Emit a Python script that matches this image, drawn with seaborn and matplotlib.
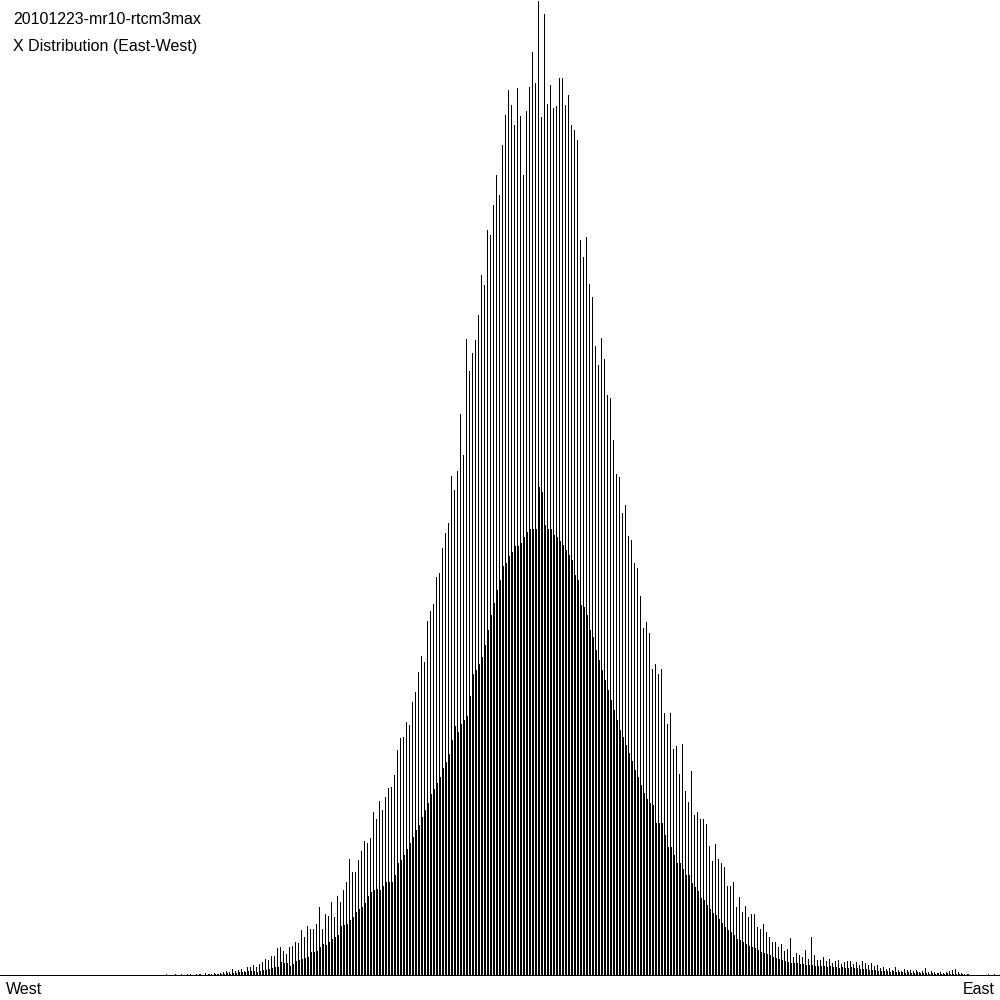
import numpy as np
import pandas as pd
import seaborn as sns
import matplotlib
matplotlib.use("Agg")
import matplotlib.pyplot as plt

# --- datos: histograma X (Este-Oeste), pares de bins (alto / bajo) ---
titulo_1 = "20101223-mr10-rtcm3max"
titulo_2 = "X Distribution (East-West)"
etiqueta_oeste = "West"
etiqueta_este = "East"

# bins "altos" (cada par), de oeste a este
conteo_alto = [
    0, 0, 1, 0, 0, 1, 0, 1, 0, 1,
    1, 0, 1, 1, 0, 2, 1, 1, 2, 1,
    2, 3, 4, 3, 6, 4, 5, 6, 4, 8,
    8, 10, 8, 11, 13, 16, 15, 19, 19, 27,
    28, 24, 21, 28, 29, 33, 32, 45, 38, 49,
    46, 46, 51, 68, 46, 61, 59, 73, 58, 79,
    73, 85, 93, 116, 103, 103, 115, 124, 134, 132,
    137, 163, 156, 174, 165, 178, 187, 188, 200, 225,
    237, 238, 253, 250, 273, 283, 303, 319, 313, 354,
    364, 371, 398, 402, 427, 442, 452, 499, 485, 504,
    561, 520, 636, 604, 622, 635, 660, 700, 690, 745,
    740, 770, 800, 780, 830, 860, 885, 870, 850, 887,
    859, 800, 864, 888, 923, 892, 974, 858, 961, 871,
    890, 867, 869, 897, 897, 870, 880, 850, 845, 835,
    735, 718, 738, 691, 678, 629, 610, 637, 616, 580,
    577, 535, 501, 498, 462, 470, 439, 435, 412, 407,
    379, 347, 353, 342, 306, 311, 301, 306, 262, 251,
    262, 226, 229, 201, 231, 184, 173, 204, 160, 163,
    156, 156, 151, 129, 114, 131, 116, 112, 108, 89,
    89, 93, 68, 78, 63, 69, 58, 61, 61, 48,
    46, 51, 43, 38, 33, 33, 28, 31, 24, 26,
    37, 18, 22, 20, 18, 25, 16, 38, 20, 15,
    15, 18, 14, 16, 12, 14, 15, 11, 13, 14,
    14, 11, 13, 10, 14, 12, 10, 12, 9, 10,
    7, 8, 6, 7, 5, 8, 5, 4, 6, 5,
    5, 4, 5, 3, 4, 7, 3, 4, 3, 2,
    3, 2, 3, 4, 5, 6, 3, 2, 1, 1,
    0, 0, 0, 0, 0, 0, 1, 0, 1, 0,
]

# bins "bajos" (el vecino de cada par)
conteo_bajo = [
    0, 0, 0, 0, 0, 0, 0, 0, 0, 0,
    0, 0, 0, 1, 0, 0, 1, 0, 1, 1,
    1, 1, 2, 1, 2, 2, 3, 3, 3, 4,
    4, 4, 3, 4, 5, 5, 6, 7, 8, 8,
    13, 12, 12, 9, 11, 14, 15, 16, 17, 18,
    23, 23, 24, 28, 31, 30, 33, 36, 38, 40,
    49, 50, 51, 55, 58, 63, 66, 68, 72, 79,
    83, 85, 86, 85, 89, 93, 93, 93, 100, 112,
    115, 120, 126, 132, 138, 145, 150, 158, 165, 172,
    181, 186, 192, 198, 207, 213, 221, 235, 249, 243,
    251, 255, 259, 279, 301, 305, 311, 318, 330, 345,
    360, 372, 385, 395, 409, 412, 419, 423, 429, 429,
    432, 438, 443, 446, 446, 446, 488, 483, 450, 446,
    446, 440, 438, 434, 430, 425, 420, 415, 400, 395,
    370, 368, 360, 345, 338, 325, 315, 305, 295, 285,
    275, 265, 255, 245, 238, 230, 222, 214, 205, 198,
    190, 182, 176, 172, 170, 152, 152, 152, 140, 128,
    128, 120, 112, 112, 106, 100, 100, 92, 88, 84,
    77, 75, 70, 66, 62, 60, 56, 52, 48, 45,
    43, 40, 36, 35, 33, 31, 29, 28, 27, 25,
    23, 22, 21, 20, 18, 17, 16, 15, 14, 13,
    12, 12, 12, 11, 11, 10, 10, 10, 9, 9,
    9, 9, 8, 9, 8, 8, 7, 8, 7, 7,
    8, 7, 7, 6, 6, 6, 5, 5, 5, 4,
    4, 4, 4, 3, 4, 3, 3, 3, 2, 3,
    2, 2, 3, 2, 2, 2, 1, 2, 1, 2,
    1, 1, 2, 1, 1, 1, 1, 1, 0, 1,
    0, 0, 0, 0, 0, 0, 0, 0, 0, 0,
]

# --- armado del DataFrame largo ---
n = len(conteo_alto)
par = np.arange(n)
df = pd.DataFrame({
    "pos": np.concatenate([par + 1 / 6, par + 1 / 2]),
    "conteo": conteo_alto + conteo_bajo,
})

sns.set_theme(style="white")
plt.rcParams["font.family"] = ["Liberation Sans", "DejaVu Sans"]
plt.rcParams["text.color"] = "black"

fig = plt.figure(figsize=(10, 10), dpi=100)
ax = fig.add_axes([0, 0.025, 1, 0.975])

# cada par ocupa 3 px: bin alto, bin bajo, hueco
x_min, x_max = -160 / 3, 840 / 3
sns.histplot(data=df, x="pos", weights="conteo",
             binwidth=1 / 3, binrange=(0, n),
             color="black", alpha=1, linewidth=0, antialiased=False, ax=ax)

ax.set_xlim(x_min, x_max)
ax.set_ylim(0, 975)
ax.set_xticks([])
ax.set_yticks([])
ax.set_xlabel("")
ax.set_ylabel("")
for lado in ["top", "left", "right"]:
    ax.spines[lado].set_visible(False)
ax.spines["bottom"].set_linewidth(0.72)
ax.spines["bottom"].set_color("black")

fig.text(0.013, 0.981, titulo_1, fontsize=11.5, va="center", ha="left", color="black")
fig.text(0.013, 0.954, titulo_2, fontsize=11.5, va="center", ha="left", color="black")
fig.text(0.006, 0.010, etiqueta_oeste, fontsize=11.5, va="center", ha="left", color="black")
fig.text(0.995, 0.010, etiqueta_este, fontsize=11.5, va="center", ha="right", color="black")

fig.savefig("out.png", dpi=100, facecolor="white")
plt.close(fig)
